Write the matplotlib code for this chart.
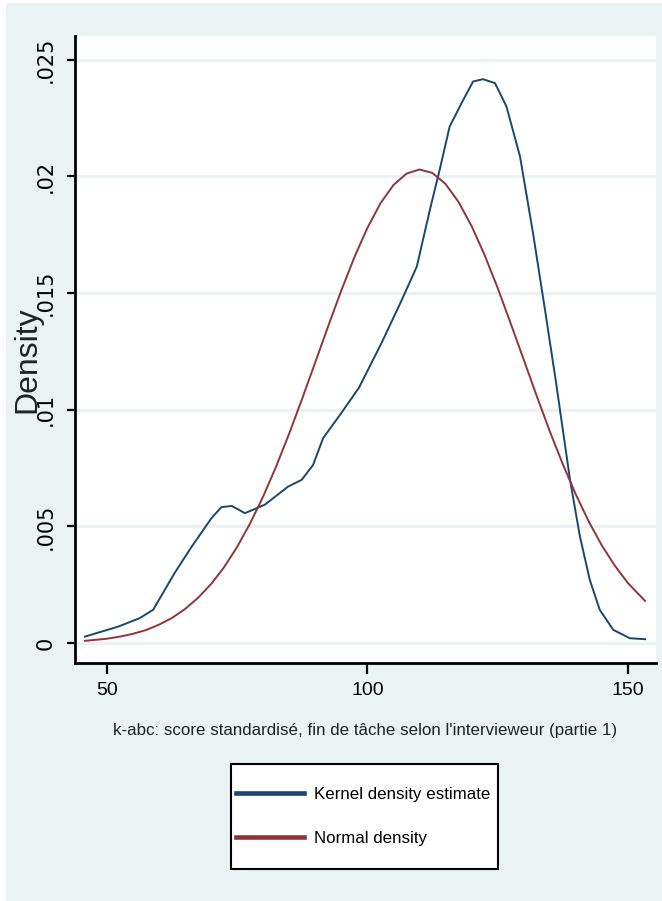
import matplotlib
matplotlib.use("Agg")
import matplotlib.pyplot as plt
from matplotlib.patches import Rectangle
from matplotlib.lines import Line2D

# DATA
kernelX = [45.8, 52.2, 56.3, 58.9, 63.0, 66.3, 70.1, 72.0, 74.0, 76.5, 80.3, 84.8,
           87.4, 89.6, 91.5, 95.0, 98.4, 102.7, 106.6, 109.5, 112.0, 113.9, 115.8,
           118.4, 120.3, 122.2, 124.5, 126.7, 129.3, 131.8, 134.1, 136.2, 138.9,
           140.8, 142.7, 144.6, 147.2, 150.4, 153.3]
kernelY = [0.00028, 0.00071, 0.00107, 0.00143, 0.0030, 0.00414, 0.00536, 0.00583,
           0.00588, 0.00557, 0.00593, 0.00671, 0.0070, 0.00764, 0.00878, 0.00986,
           0.01095, 0.01285, 0.0147, 0.01614, 0.01857, 0.0203, 0.02214, 0.02328,
           0.02407, 0.02417, 0.0240, 0.023, 0.02086, 0.01757, 0.01428, 0.0112,
           0.0070, 0.00457, 0.00271, 0.00143, 0.00057, 0.00021, 0.00017]

normalX = [45.8, 50, 52.5, 55, 57.5, 60, 62.5, 65, 67.5, 70, 72.5, 75, 77.5, 80,
           82.5, 85, 87.5, 90, 92.5, 95, 97.5, 100, 102.5, 105, 107.5, 110, 112.5,
           115, 117.5, 120, 122.5, 125, 127.5, 130, 132.5, 135, 137.5, 140, 142.5,
           145, 147.5, 150, 153.3]
normalY = [0.00010, 0.00019, 0.00028, 0.00040, 0.00056, 0.00079, 0.00108, 0.00146,
           0.00194, 0.00253, 0.00325, 0.00412, 0.00513, 0.00628, 0.00757, 0.00898,
           0.01048, 0.01203, 0.01359, 0.01511, 0.01653, 0.01779, 0.01884, 0.01963,
           0.02012, 0.02030, 0.02015, 0.01968, 0.01891, 0.01788, 0.01664, 0.01523,
           0.01371, 0.01216, 0.01060, 0.00909, 0.00768, 0.00638, 0.00521, 0.00419,
           0.00332, 0.00258, 0.00181]

xTicks = [50, 100, 150]
yTicks = [0, 0.005, 0.01, 0.015, 0.02, 0.025]
yTickLabels = ["0", ".005", ".01", ".015", ".02", ".025"]
legendLabels = ["Kernel density estimate", "Normal density"]
xTitle = "k-abc: score standardisé, fin de tâche selon l'intervieweur (partie 1)"
yTitle = "Density"

# STYLE
W, H = 662, 901
bgColour = "#EAF2F3"
kernelColour = "#1A476F"
normalColour = "#90353B"
sans = ["Liberation Sans", "DejaVu Sans"]

fig = plt.figure(figsize=(W / 100, H / 100), dpi=100, facecolor="white")

# outer graph region (light bluish gray, small white border left/top)
bg = Rectangle((6 / W, 0), 1 - 6 / W, 1 - 3 / H, transform=fig.transFigure,
               facecolor=bgColour, edgecolor="none", zorder=-10)
fig.patches.append(bg)

ax = fig.add_axes([75 / W, 1 - 663 / H, (656 - 75) / W, (663 - 36) / H])
ax.set_zorder(2)
ax.set_facecolor("white")
ax.plot(kernelX, kernelY, color=kernelColour, lw=1.4, zorder=3)
ax.plot(normalX, normalY, color=normalColour, lw=1.4, zorder=3)

ax.set_xlim(43.9, 155.4)
ax.set_ylim(-0.00085, 0.02602)
ax.set_xticks(xTicks)
ax.set_xticklabels([str(t) for t in xTicks], fontfamily=sans, fontsize=14,
                   color="#222222")
ax.set_yticks(yTicks)
ax.set_yticklabels(yTickLabels, fontfamily="DejaVu Sans", fontsize=15,
                   rotation=90, va="center", color="#222222")
ax.grid(axis="y", color=bgColour, lw=2.3, zorder=1)
ax.set_axisbelow(True)

for side in ["top", "right"]:
    ax.spines[side].set_visible(False)
for side in ["left", "bottom"]:
    ax.spines[side].set_linewidth(2.0)
    ax.spines[side].set_color("black")
ax.tick_params(axis="y", length=6, width=1.6, pad=8, colors="black")
ax.tick_params(axis="x", length=8, width=1.6, pad=6, colors="black")

ax.set_xlabel(xTitle, fontfamily=sans, fontsize=12.2, labelpad=17, color="#222222")
fig.text(27 / W, 1 - 360 / H, yTitle, rotation=90, ha="center", va="center",
         fontfamily="Liberation Sans", fontsize=23, color="#222222", zorder=5)

# legend: box drawn by hand, entries through the legend machinery
legBox = Rectangle((231 / W, 1 - 869 / H), (498 - 231) / W, (869 - 764) / H,
                   transform=fig.transFigure, facecolor="white",
                   edgecolor="black", lw=1.5, zorder=1)
fig.patches.append(legBox)
handles = [Line2D([], [], color=kernelColour, lw=3.3),
           Line2D([], [], color=normalColour, lw=3.3)]
leg = fig.legend(handles, legendLabels, loc="center left",
                 bbox_to_anchor=(236 / W, 1 - 816.5 / H), frameon=False,
                 prop={"family": sans, "size": 12.2}, handlelength=4.0,
                 handletextpad=0.6, labelspacing=1.75, borderpad=0, borderaxespad=0)
leg.set_zorder(3)

fig.savefig("out.png", dpi=100, facecolor=fig.get_facecolor())
